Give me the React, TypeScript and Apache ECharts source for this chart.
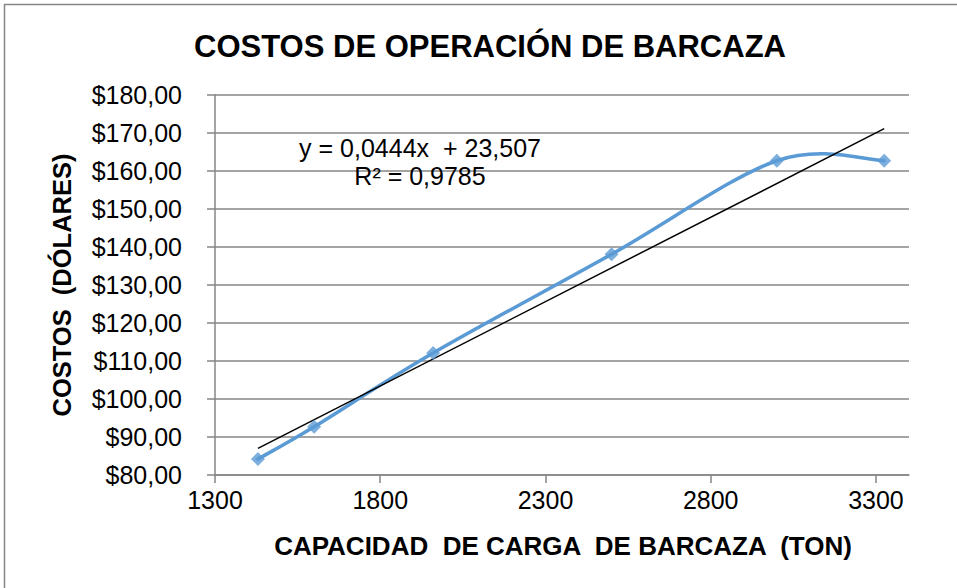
import React, { useEffect, useRef } from "react";
import * as echarts from "echarts";

const capacities = [1430, 1600, 1960, 2500, 3000, 3325];
const costs = [84.2, 92.7, 112.1, 138.1, 162.7, 162.7];
const xTicks = [1300, 1800, 2300, 2800, 3300];
const trendSlope = 0.0444;
const trendIntercept = 23.507;
const equationLines = ["y = 0,0444x  + 23,507", "R² = 0,9785"];
const titleText = "COSTOS DE OPERACIÓN DE BARCAZA";
const xTitle = "CAPACIDAD  DE CARGA  DE BARCAZA  (TON)";
const yTitle = "COSTOS  (DÓLARES)";

const FONT = "'Liberation Sans', Arial, sans-serif";
const GRAY = "#868686";
const BLUE = "#5B9BD5";

export default function App() {
  const ref = useRef<HTMLDivElement>(null);
  useEffect(() => {
    if (!ref.current) return;
    const chart = echarts.init(ref.current, null, { renderer: "svg" });
    const x0 = capacities[0];
    const x1 = capacities[capacities.length - 1];
    const trend = [
      [x0, trendSlope * x0 + trendIntercept],
      [x1, trendSlope * x1 + trendIntercept],
    ];
    const points = capacities.map((c, i) => [c, costs[i]]);

    const renderSmooth = (params: any, api: any) => {
      if (params.dataIndex !== 0) return null;
      const p = points.map((d) => api.coord(d));
      const n = p.length;
      const t = 1 / 6;
      let d = `M${p[0][0]},${p[0][1]}`;
      for (let i = 0; i < n - 1; i++) {
        const a = p[i - 1] || p[i];
        const b = p[i];
        const c = p[i + 1];
        const e = p[i + 2] || p[i + 1];
        const c1x = b[0] + (c[0] - a[0]) * t;
        const c1y = b[1] + (c[1] - a[1]) * t;
        const c2x = c[0] - (e[0] - b[0]) * t;
        const c2y = c[1] - (e[1] - b[1]) * t;
        d += ` C${c1x},${c1y} ${c2x},${c2y} ${c[0]},${c[1]}`;
      }
      return {
        type: "path",
        shape: { pathData: d },
        style: { fill: "none", stroke: BLUE, lineWidth: 3.5, lineJoin: "round", lineCap: "round" },
      };
    };

    chart.setOption({
      animation: false,
      backgroundColor: "#ffffff",
      textStyle: { fontFamily: FONT },
      grid: { left: 215, right: 48, top: 95, bottom: 113, containLabel: false },
      xAxis: {
        type: "value",
        min: 1300,
        max: 3400,
        splitLine: { show: false },
        axisLine: { show: true, onZero: false, lineStyle: { color: GRAY, width: 1.5 } },
        axisTick: { show: true, length: 8, customValues: xTicks, lineStyle: { color: GRAY, width: 1.5 } },
        axisLabel: {
          customValues: xTicks,
          color: "#000",
          fontSize: 25,
          fontFamily: FONT,
          margin: 12,
          formatter: (v: number) => String(v),
        },
      },
      yAxis: {
        type: "value",
        min: 80,
        max: 180,
        interval: 10,
        axisLine: { show: true, onZero: false, lineStyle: { color: GRAY, width: 1.5 } },
        axisTick: { show: true, length: 8, lineStyle: { color: GRAY, width: 1.5 } },
        splitLine: { show: true, lineStyle: { color: GRAY, width: 1.5 } },
        axisLabel: {
          color: "#000",
          fontSize: 25,
          fontFamily: FONT,
          margin: 33,
          formatter: (v: number) => "$" + v + ",00",
        },
      },
      series: [
        {
          type: "custom",
          data: points,
          renderItem: renderSmooth,
          silent: true,
          z: 2,
        },
        {
          type: "line",
          data: trend,
          symbol: "none",
          lineStyle: { color: "#000000", width: 1.5 },
          z: 3,
        },
        {
          type: "scatter",
          data: points,
          symbol: "diamond",
          symbolSize: 14,
          itemStyle: { color: BLUE },
          z: 4,
        },
      ],
      graphic: [
        {
          type: "rect",
          shape: { x: 4.5, y: 4.5, width: 1000, height: 1000 },
          style: { fill: "none", stroke: GRAY, lineWidth: 1.5 },
          silent: true,
          z: 0,
        },
        {
          type: "text",
          x: 490,
          y: 46,
          style: {
            text: titleText,
            font: "bold 31px " + FONT,
            fill: "#000",
            align: "center",
            verticalAlign: "middle",
          },
        },
        {
          type: "text",
          x: 420,
          y: 162,
          style: {
            text: equationLines.join("\n"),
            font: "25px " + FONT,
            lineHeight: 28,
            fill: "#000",
            align: "center",
            verticalAlign: "middle",
          },
          z: 10,
        },
        {
          type: "text",
          x: 563,
          y: 546,
          style: {
            text: xTitle,
            font: "bold 26px " + FONT,
            fill: "#000",
            align: "center",
            verticalAlign: "middle",
          },
        },
        {
          type: "text",
          x: 62,
          y: 285,
          rotation: Math.PI / 2,
          style: {
            text: yTitle,
            font: "bold 25.5px " + FONT,
            fill: "#000",
            align: "center",
            verticalAlign: "middle",
          },
        },
      ],
    });
    return () => chart.dispose();
  }, []);
  return (
    <div
      ref={ref}
      style={{ position: "fixed", left: 0, top: 0, width: 957, height: 588 }}
    />
  );
}
